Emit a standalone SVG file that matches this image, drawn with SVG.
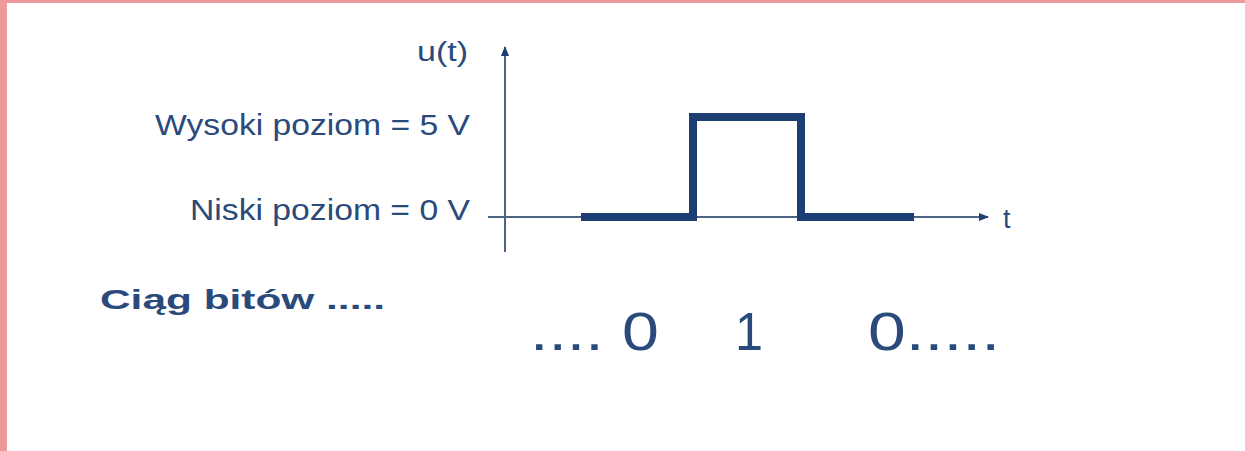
<svg xmlns="http://www.w3.org/2000/svg" width="1245" height="451" viewBox="0 0 1245 451">
  <defs>
    <style>
      .lbl { font-family: "Liberation Sans", Arial, sans-serif; fill: #2a4a7c; }
      .axis { stroke: #4d6585; stroke-width: 2; fill: none; }
      .sig { stroke: #1d3e73; stroke-width: 8; fill: none; stroke-linejoin: miter; }
    </style>
    <marker id="arrow" markerWidth="10" markerHeight="10" refX="9" refY="5" orient="auto" markerUnits="userSpaceOnUse">
      <path d="M0,1 L10,5 L0,9 Z" fill="#1d3e73"/>
    </marker>
  </defs>

  <rect x="0" y="0" width="1245" height="451" fill="#ffffff"/>
  <!-- frame edges -->
  <rect x="0" y="0" width="1245" height="3" fill="#ee9a9a"/>
  <rect x="0" y="0" width="7" height="451" fill="#ee9a9a"/>

  <g id="axes">
    <line class="axis" x1="505" y1="252" x2="505" y2="47" marker-end="url(#arrow)"/>
    <line class="axis" x1="488" y1="217" x2="988" y2="217" marker-end="url(#arrow)"/>
  </g>

  <g id="signal">
    <path class="sig" d="M581,217 H693 V117 H801 V217 H914"/>
  </g>

  <g id="labels">
    <text class="lbl" x="417" y="61" font-size="27" textLength="51" lengthAdjust="spacingAndGlyphs">u(t)</text>
    <text class="lbl" x="155" y="135" font-size="30" textLength="315" lengthAdjust="spacingAndGlyphs">Wysoki poziom = 5 V</text>
    <text class="lbl" x="190" y="220" font-size="30" textLength="280" lengthAdjust="spacingAndGlyphs">Niski poziom = 0 V</text>
    <text class="lbl" x="1003" y="228" font-size="27">t</text>
    <text class="lbl" x="100" y="309" font-size="28" font-weight="bold" fill="#1f3c6e" textLength="285" lengthAdjust="spacingAndGlyphs">Ciąg bitów .....</text>
    <text class="lbl" x="530" y="350" font-size="53" textLength="129" lengthAdjust="spacingAndGlyphs">.... 0</text>
    <text class="lbl" x="735" y="350" font-size="53" textLength="28" lengthAdjust="spacingAndGlyphs">1</text>
    <text class="lbl" x="868" y="350" font-size="53" textLength="132" lengthAdjust="spacingAndGlyphs">0.....</text>
  </g>
</svg>
